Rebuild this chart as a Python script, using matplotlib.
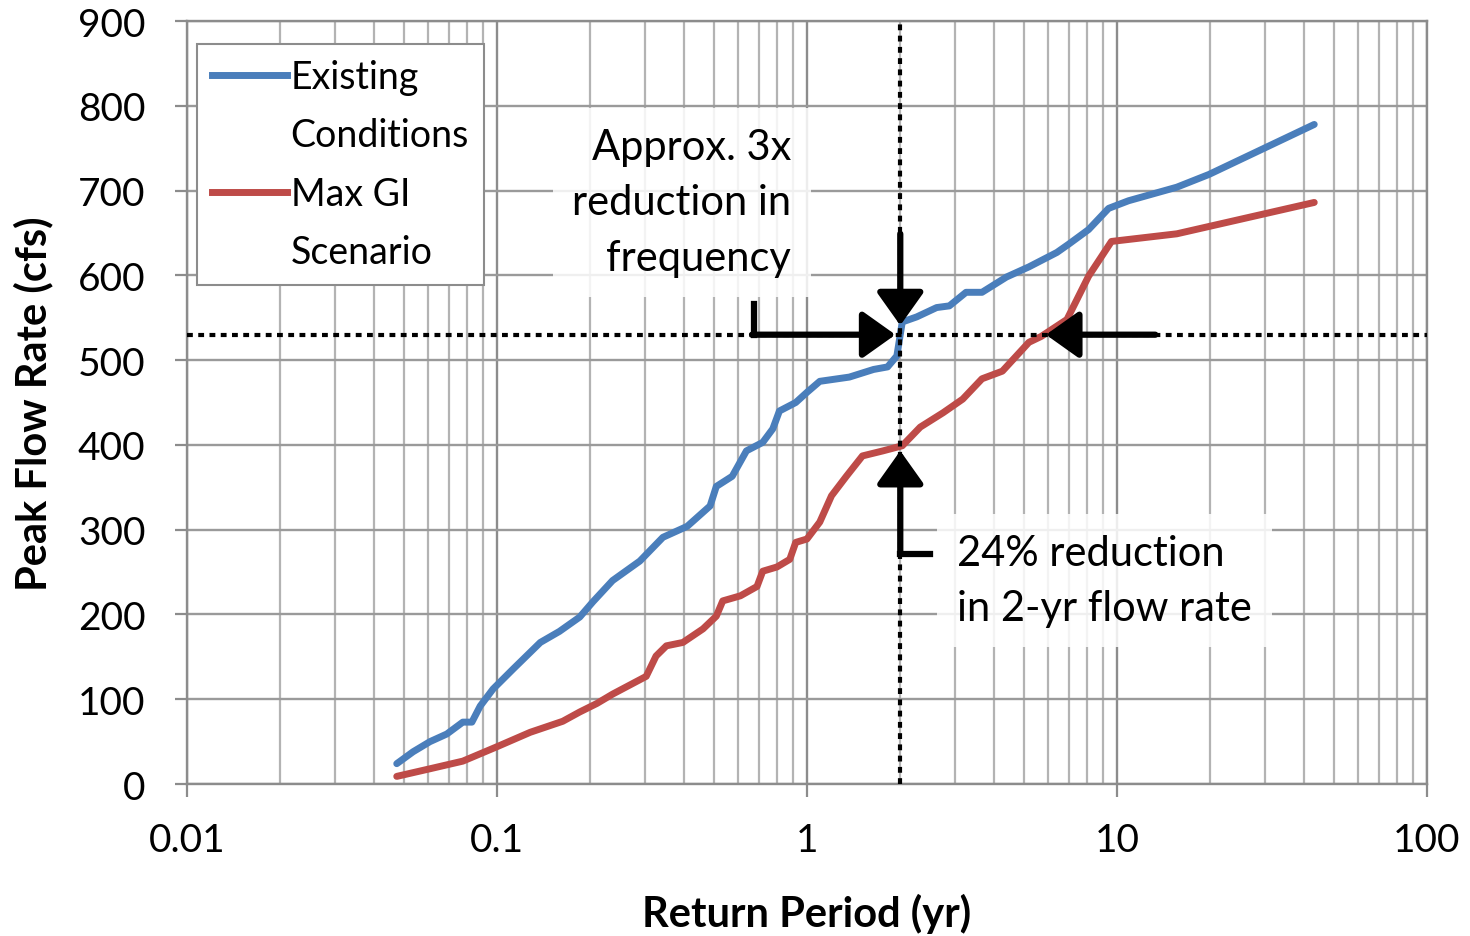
import matplotlib
matplotlib.use("Agg")
import matplotlib.pyplot as plt
from matplotlib.lines import Line2D
from matplotlib.ticker import LogLocator, NullFormatter, FixedLocator, FixedFormatter

plt.rcParams['font.family'] = ['Lato', 'DejaVu Sans']

# return period (yr) and peak flow (cfs) for each scenario
existing_x = [0.0475, 0.0536, 0.0608, 0.0689, 0.0776, 0.083, 0.0883, 0.0971, 0.113, 0.138,
              0.159, 0.185, 0.204, 0.236, 0.289, 0.343, 0.411, 0.487, 0.51, 0.574,
              0.638, 0.72, 0.776, 0.815, 0.92, 1.0, 1.1, 1.37, 1.64, 1.82,
              1.95, 2.03, 2.26, 2.62, 2.88, 3.26, 3.67, 4.4, 5.2, 6.4,
              7.0, 8.1, 9.4, 10.9, 15.6, 19.8, 43.3]
existing_y = [24, 38, 50, 59, 73, 73, 92, 112, 136, 167,
              180, 197, 215, 240, 263, 291, 304, 328, 351, 363,
              393, 403, 419, 440, 450, 462, 475, 480, 489, 492,
              505, 545, 551, 562, 564, 580, 580, 598, 610, 627,
              637, 654, 679, 688, 704, 719, 778]

maxgi_x = [0.0475, 0.0608, 0.0776, 0.1, 0.128, 0.163, 0.185, 0.21, 0.236, 0.303,
           0.326, 0.352, 0.398, 0.462, 0.51, 0.535, 0.61, 0.69, 0.72, 0.80,
           0.88, 0.92, 1.0, 1.1, 1.2, 1.34, 1.51, 1.76, 2.03, 2.32,
           2.75, 3.18, 3.67, 4.27, 5.2, 5.7, 6.9, 8.1, 9.6, 15.6, 43.3]
maxgi_y = [9, 18, 27, 44, 61, 74, 85, 95, 106, 127,
           151, 163, 167, 183, 198, 216, 222, 233, 251, 256,
           265, 285, 289, 309, 340, 363, 387, 393, 399, 421,
           438, 454, 478, 487, 521, 528, 548, 599, 640, 649, 686]

x_ticks = [0.01, 0.1, 1, 10, 100]
x_labels = ['0.01', '0.1', '1', '10', '100']
y_ticks = [0, 100, 200, 300, 400, 500, 600, 700, 800, 900]

design_period = 2.0
design_flow = 530

BLUE = '#4a7ebb'
RED = '#be4b48'

fig = plt.figure(figsize=(14.7, 9.37), dpi=100)
ax = fig.add_axes([0.1272, 0.1622, 0.8435, 0.8143])

ax.set_xscale('log')
ax.set_xlim(0.01, 100)
ax.set_ylim(0, 900)

# grid
ax.xaxis.set_major_locator(FixedLocator(x_ticks))
ax.xaxis.set_major_formatter(FixedFormatter(x_labels))
ax.xaxis.set_minor_locator(LogLocator(base=10, subs=range(2, 10)))
ax.xaxis.set_minor_formatter(NullFormatter())
ax.set_yticks(y_ticks)
ax.grid(which='major', axis='x', color='#8c8c8c', lw=1.7)
ax.grid(which='minor', axis='x', color='#b3b3b3', lw=1.6)
ax.grid(which='major', axis='y', color='#9a9a9a', lw=1.7)
ax.set_axisbelow(True)
for s in ax.spines.values():
    s.set_color('#8c8c8c')
    s.set_linewidth(1.7)

ax.tick_params(axis='both', which='major', length=9, width=1.6, color='#8c8c8c',
               labelsize=28)
ax.tick_params(axis='x', which='major', pad=18)
ax.tick_params(axis='y', which='major', pad=21)
ax.tick_params(axis='x', which='minor', length=0)

# flow curves
ax.plot(existing_x, existing_y, color=BLUE, lw=5, solid_capstyle='round', zorder=3)
ax.plot(maxgi_x, maxgi_y, color=RED, lw=5, solid_capstyle='round', zorder=3)

# 2-yr reference lines
ax.axhline(design_flow, color='black', lw=3, ls=(0, (1.4, 1.3)), zorder=4)
ax.axvline(design_period, color='black', lw=3, ls=(0, (1.4, 1.3)), zorder=4)

arrow = dict(arrowstyle='-|>,head_length=0.45,head_width=0.32', lw=4.5, color='black',
             shrinkA=0, shrinkB=0, mutation_scale=45)

ax.plot([0.675, 0.675], [566, design_flow], color='black', lw=4.5, zorder=5)
ax.annotate('', xy=(1.93, design_flow), xytext=(0.665, design_flow),
            arrowprops=arrow, zorder=5)
ax.annotate('', xy=(2.0, 541), xytext=(2.0, 649), arrowprops=arrow, zorder=5)
ax.plot([2.0, 2.5], [271, 271], color='black', lw=4.5, zorder=5)
ax.annotate('', xy=(2.0, 393), xytext=(2.0, 271), arrowprops=arrow, zorder=5)
ax.annotate('', xy=(5.9, design_flow), xytext=(13.3, design_flow),
            arrowprops=arrow, zorder=5)

box = dict(facecolor='white', edgecolor='none', alpha=0.85, pad=14)
ax.text(0.89, 686, 'Approx. 3x\nreduction in\nfrequency', ha='right', va='center',
        multialignment='right', fontsize=30, linespacing=1.57, bbox=box, zorder=2)
ax.text(3.05, 240, '24% reduction\nin 2-yr flow rate', ha='left', va='center',
        fontsize=30, linespacing=1.57, bbox=box, zorder=2)

# legend: handle sits beside the first line of each two-line label
blank = Line2D([], [], color='none')
handles = [Line2D([], [], color=BLUE, lw=5), blank,
           Line2D([], [], color=RED, lw=5), blank]
labels = ['Existing', 'Conditions', 'Max GI', 'Scenario']
leg = ax.legend(handles, labels, loc='upper left', bbox_to_anchor=(0.008, 0.97),
                borderaxespad=0, fontsize=27, fancybox=False, framealpha=1,
                edgecolor='#8c8c8c', handlelength=2.0, handletextpad=0.1,
                labelspacing=0.6, borderpad=0.4)
leg.get_frame().set_linewidth(1.5)
leg.set_zorder(6)

ax.set_xlabel('Return Period (yr)', fontsize=30, fontweight='bold')
ax.set_ylabel('Peak Flow Rate (cfs)', fontsize=30, fontweight='bold')
ax.xaxis.set_label_coords(0.5, -0.143)
ax.yaxis.set_label_coords(-0.108, 0.5)

fig.savefig('out.png', dpi=100)
